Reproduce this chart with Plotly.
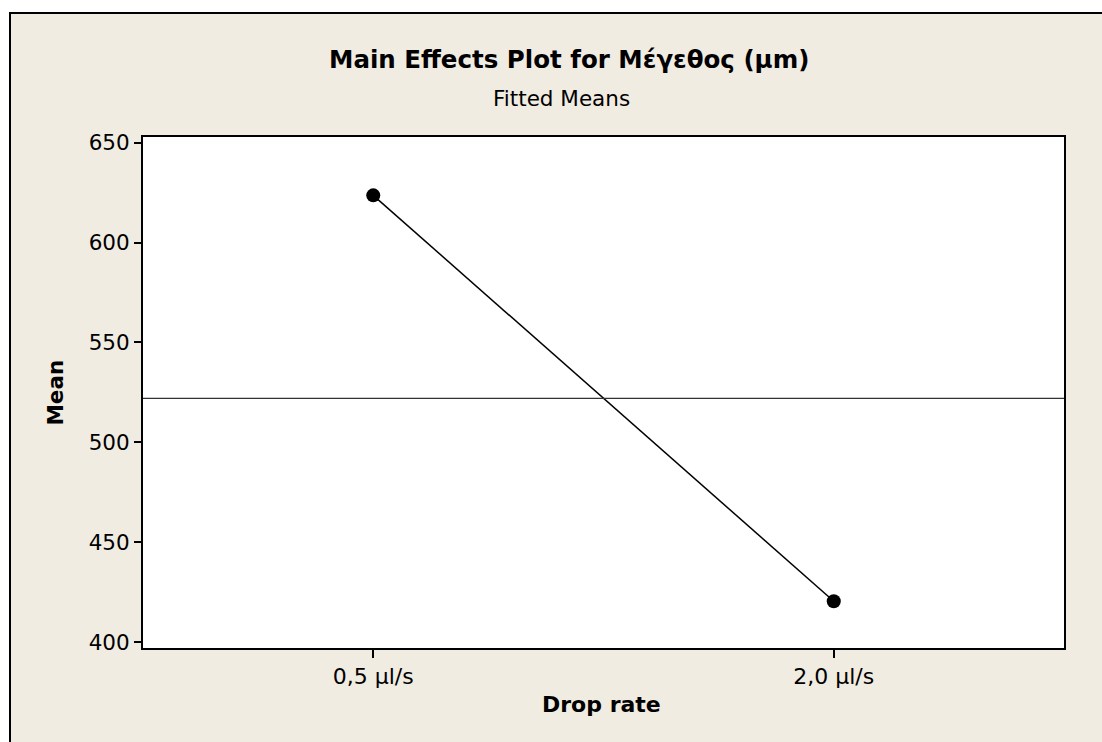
import numpy as np
import plotly.graph_objects as go

# Data
categories = ["0,5 µl/s", "2,0 µl/s"]
means = [623.6, 420.5]
y_ticks = [400, 450, 500, 550, 600, 650]
grand_mean = float(np.mean(means))

BG = "#F0ECE2"
FONT = "DejaVu Sans"

fig = go.Figure()
fig.add_trace(go.Scatter(
    x=categories, y=means, mode="lines+markers",
    line=dict(color="black", width=1.5),
    marker=dict(color="black", size=14, symbol="circle"),
    showlegend=False, hoverinfo="x+y",
))

fig.update_layout(
    width=1102, height=742,
    margin=dict(l=143, r=38, t=137, b=94),
    paper_bgcolor="white", plot_bgcolor="white",
    font=dict(family=FONT, color="black", size=22),
    showlegend=False,
    xaxis=dict(
        type="category", range=[-0.5, 1.5],
        showline=True, linecolor="black", linewidth=2, mirror=True,
        ticks="outside", ticklen=8, tickwidth=1.5, tickcolor="black",
        showgrid=False, zeroline=False,
        tickfont=dict(family=FONT, size=22, color="black"),
    ),
    yaxis=dict(
        range=[397.1, 652.8], tickvals=y_ticks,
        showline=True, linecolor="black", linewidth=2, mirror=True,
        ticks="outside", ticklen=7, tickwidth=1.5, tickcolor="black",
        showgrid=False, zeroline=False,
        tickfont=dict(family=FONT, size=21.5, color="black"),
    ),
    shapes=[
        dict(type="rect", xref="paper", yref="paper",
             x0=-0.1444, x1=1.3, y0=-0.4, y1=1.2427,
             line=dict(color="black", width=2), fillcolor=BG,
             layer="below"),
        dict(type="rect", xref="x domain", yref="y domain",
             x0=0, x1=1, y0=0, y1=1,
             line=dict(width=0), fillcolor="white", layer="below"),
        dict(type="line", xref="paper", yref="y", x0=0, x1=1,
             y0=grand_mean, y1=grand_mean,
             line=dict(color="#333333", width=1.2)),
    ],
    annotations=[
        dict(text="<b>Main Effects Plot for Μέγεθος (μm)</b>", xref="paper", yref="paper",
             x=0.4625, y=1.1526, xanchor="center", yanchor="middle", showarrow=False,
             font=dict(family=FONT, size=24.5, color="black")),
        dict(text="Fitted Means", xref="paper", yref="paper",
             x=0.454, y=1.0763, xanchor="center", yanchor="middle", showarrow=False,
             font=dict(family=FONT, size=21.5, color="black")),
        dict(text="<b>Drop rate</b>", xref="paper", yref="paper",
             x=0.498, y=-0.1115, xanchor="center", yanchor="middle", showarrow=False,
             font=dict(family=FONT, size=22, color="black")),
        dict(text="<b>Mean</b>", xref="paper", yref="paper", textangle=-90,
             x=-0.0955, y=0.5, xanchor="center", yanchor="middle", showarrow=False,
             font=dict(family=FONT, size=21.5, color="black")),
    ],
)

fig.write_html(
    "out.html",
    config={"displayModeBar": False},
    post_script="document.body.style.margin='0';document.body.style.overflow='hidden';",
)
